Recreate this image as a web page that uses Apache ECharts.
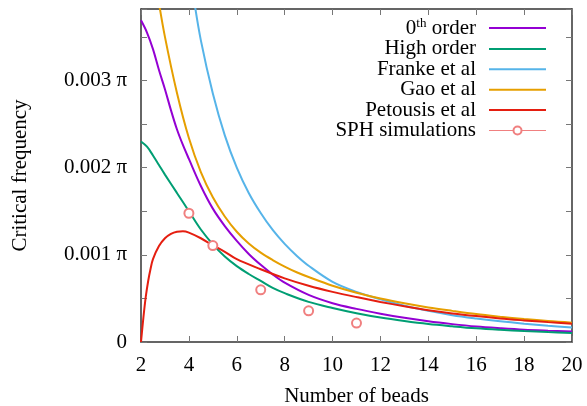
<!DOCTYPE html>
<html>
<head>
<meta charset="utf-8">
<script src="https://cdn.jsdelivr.net/npm/echarts@6/dist/echarts.min.js"></script>
<style>
html,body{margin:0;padding:0;background:#fff;}
#chart{width:587px;height:406px;}
</style>
</head>
<body>
<div id="chart"></div>
<script>
// Values are in units of 0.001*pi (critical frequency), x = number of beads
const seriesNames = ['0th order', 'High order', 'Franke et al', 'Gao et al', 'Petousis et al', 'SPH simulations'];
const xTicks = [2, 4, 6, 8, 10, 12, 14, 16, 18, 20];
const yTickLabels = ['0', '0.001 π', '0.002 π', '0.003 π'];

const zerothOrder = [[2,3.69],[2.25,3.55],[2.5,3.36],[2.75,3.12],[3,2.90],[3.25,2.66],[3.5,2.44],[3.75,2.26],[4,2.10],[4.5,1.79],[5,1.53],[5.5,1.33],[6,1.16],[6.5,1.01],[7,0.885],[7.5,0.775],[8,0.68],[9,0.54],[10,0.445],[11,0.38],[12,0.325],[13,0.277],[14,0.237],[15,0.205],[16,0.178],[17,0.158],[18,0.141],[19,0.13],[20,0.121]];
const highOrder = [[2,2.30],[2.25,2.24],[2.5,2.14],[2.75,2.03],[3,1.92],[3.5,1.71],[4,1.50],[4.5,1.29],[5,1.12],[5.5,0.98],[6,0.87],[6.5,0.78],[7,0.70],[7.5,0.62],[8,0.56],[9,0.46],[10,0.39],[11,0.33],[12,0.28],[13,0.24],[14,0.206],[15,0.18],[16,0.157],[17,0.14],[18,0.126],[19,0.114],[20,0.103]];
const franke = [[4.2,3.95],[4.5,3.46],[5,2.85],[5.5,2.37],[6,2.00],[6.5,1.71],[7,1.48],[7.5,1.285],[8,1.125],[8.5,0.99],[9,0.875],[10,0.69],[11,0.575],[12,0.49],[13,0.415],[14,0.357],[15,0.308],[16,0.27],[17,0.237],[18,0.21],[19,0.187],[20,0.167]];
const gao = [[2.7,3.97],[3,3.50],[3.5,2.86],[4,2.34],[4.5,1.95],[5,1.66],[5.5,1.44],[6,1.265],[6.5,1.13],[7,1.025],[7.5,0.94],[8,0.865],[8.5,0.80],[9,0.745],[10,0.645],[11,0.565],[12,0.50],[13,0.445],[14,0.397],[15,0.357],[16,0.32],[17,0.29],[18,0.263],[19,0.24],[20,0.222]];
const petousis = [[2,0],[2.1,0.28],[2.2,0.52],[2.3,0.70],[2.4,0.84],[2.5,0.95],[2.75,1.10],[3,1.19],[3.25,1.24],[3.5,1.265],[3.75,1.27],[4,1.255],[4.5,1.19],[5,1.11],[5.5,1.035],[6,0.95],[7,0.835],[8,0.73],[9,0.645],[10,0.575],[11,0.515],[12,0.46],[13,0.41],[14,0.365],[15,0.328],[16,0.297],[17,0.27],[18,0.248],[19,0.228],[20,0.21]];
const sphX = [4, 5, 7, 9, 11];
const sphY = [1.477, 1.106, 0.599, 0.358, 0.2175];

const colors = ['#9400d3', '#009e73', '#56b4e9', '#e69f00', '#e51e10', '#f08080'];
const FONT = 'Liberation Serif';
const FS = 21;
const frameColor = '#333';
const tickColor = '#777';

const chart = echarts.init(document.getElementById('chart'), null, {renderer: 'canvas'});

function xAxisCfg(pos, showLabel) {
  return {
    type: 'value', position: pos, min: 2, max: 20, interval: 2,
    axisLine: {show: true, onZero: false, lineStyle: {color: frameColor, width: 1.5}},
    axisTick: {show: true, inside: true, length: 6, lineStyle: {color: tickColor}},
    axisLabel: {show: showLabel, fontFamily: FONT, fontSize: FS, color: '#000', margin: 13,
      formatter: v => xTicks.indexOf(v) >= 0 ? String(v) : ''},
    splitLine: {show: false},
    name: showLabel ? 'Number of beads' : '', nameLocation: 'middle', nameGap: 44,
    nameTextStyle: {fontFamily: FONT, fontSize: FS, color: '#000'}
  };
}
function yAxisCfg(pos, showLabel) {
  return {
    type: 'value', position: pos, min: 0, max: 12 / Math.PI, interval: 0.5,
    axisLine: {show: true, onZero: false, lineStyle: {color: frameColor, width: 1.5}},
    axisTick: {show: true, inside: true, length: 6, lineStyle: {color: tickColor}},
    axisLabel: {show: showLabel, fontFamily: FONT, fontSize: FS, color: '#000', margin: 14,
      formatter: v => {
        const r = Math.round(v * 1000) / 1000;
        if (Number.isInteger(r) && r < yTickLabels.length) return yTickLabels[r];
        return '';
      }},
    splitLine: {show: false},
    name: showLabel ? 'Critical frequency' : '', nameLocation: 'middle', nameGap: 110,
    nameTextStyle: {fontFamily: FONT, fontSize: FS, color: '#000'}
  };
}

const curves = [zerothOrder, highOrder, franke, gao, petousis];
const series = curves.map((d, i) => ({
  name: seriesNames[i], type: 'line', data: d, xAxisIndex: 0, yAxisIndex: 0,
  smooth: 0.35, showSymbol: false, symbol: 'circle', clip: true,
  lineStyle: {color: colors[i], width: 2}, itemStyle: {color: colors[i]}, z: 3
}));
series.push({
  name: seriesNames[5], type: 'line', data: sphX.map((x, i) => [x, sphY[i]]),
  xAxisIndex: 0, yAxisIndex: 0, symbol: 'emptyCircle', symbolSize: 9, showSymbol: true,
  lineStyle: {width: 0, opacity: 0, color: colors[5]},
  itemStyle: {color: colors[5], borderColor: colors[5], borderWidth: 1}, z: 4
});

chart.setOption({
  animation: false,
  backgroundColor: '#fff',
  grid: {left: 141, right: 15, top: 9, bottom: 64, containLabel: false, outerBoundsMode: 'none'},
  xAxis: [xAxisCfg('bottom', true), xAxisCfg('top', false)],
  yAxis: [yAxisCfg('left', true), yAxisCfg('right', false)],
  legend: {
    orient: 'vertical', right: 40, top: 17, align: 'right', padding: 0,
    itemWidth: 57, itemHeight: 10, itemGap: -0.6, selectedMode: false,
    itemStyle: {opacity: 0},
    textStyle: {fontFamily: FONT, fontSize: FS, color: '#000', lineHeight: 20, padding: [0, 8, 0, 0],
      rich: {sup: {fontFamily: FONT, fontSize: 13, color: '#000', lineHeight: 20, padding: [0, 0, 9, 0]},
             n: {fontFamily: FONT, fontSize: FS, color: '#000', lineHeight: 20}}},
    formatter: name => name === '0th order' ? '{n|0}{sup|th}{n| order}' : name,
    data: seriesNames.map((n, i) => i === 5
      ? {name: n, itemStyle: {opacity: 1, color: colors[5], borderColor: colors[5], borderWidth: 1},
         lineStyle: {width: 1, opacity: 1, color: colors[5]}}
      : {name: n})
  },
  series: series
});
</script>
</body>
</html>
